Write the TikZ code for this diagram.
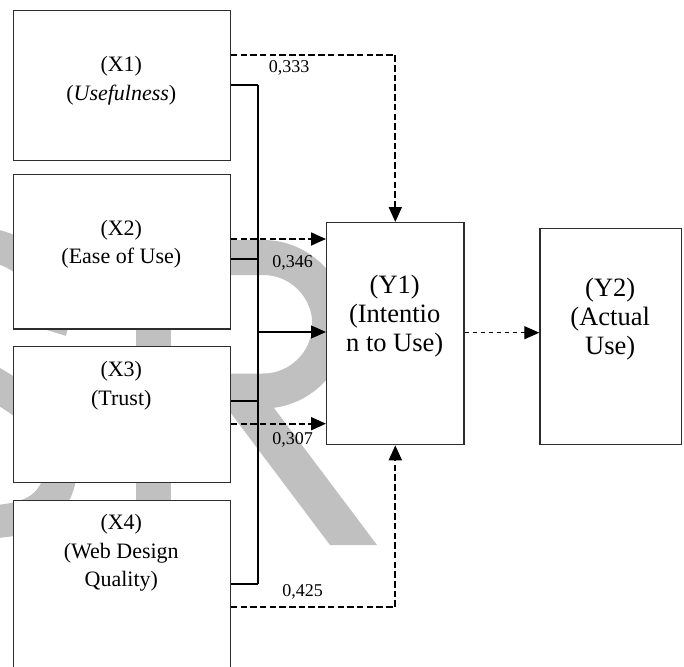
\documentclass[tikz,border=0pt]{standalone}
\usepackage{fontspec}
\setmainfont{Liberation Serif}
\usetikzlibrary{arrows.meta}

\definecolor{wmark}{RGB}{192,192,192}
\definecolor{boxline}{RGB}{45,45,45}

\tikzset{every picture/.style={line width=1pt}}
\tikzset{
  varbox/.style={draw=boxline, fill=white, line width=1.3pt, inner sep=0pt, anchor=north west},
  xtext/.style={align=center, inner sep=0pt, font=\fontsize{22}{28.5}\selectfont},
  ytext/.style={align=center, inner sep=0pt, font=\fontsize{26.5}{29}\selectfont},
  coef/.style={inner sep=0pt, font=\fontsize{18}{20}\selectfont},
  busline/.style={line width=2pt},
  dashline/.style={line width=1.8pt, dash pattern=on 6.5pt off 3.2pt, -{Triangle[length=15pt,width=13pt]}},
  solidarrow/.style={line width=1.2pt, -{Triangle[length=15pt,width=13pt]}},
  thindash/.style={line width=1.1pt, dash pattern=on 4.5pt off 3.5pt, -{Triangle[length=15pt,width=13pt]}}
}

\begin{document}
\begin{tikzpicture}[x=1pt,y=1pt,yscale=-1,xscale=1]
\useasboundingbox (0,0) rectangle (684,666);
\clip (0,0) rectangle (684,666);

% Watermark
\fill[wmark] (136,240) rectangle (171,545);
\draw[wmark, line width=35pt] (153.5,257.5) -- (263,257.5) arc[start angle=-90, end angle=90, radius=66.75] -- (153.5,391);
\fill[wmark] (215,392) -- (262,392) -- (377,545) -- (330,545) -- cycle;
\draw[wmark, line width=33pt] (50,331) .. controls (64,290) and (30,243) .. (-30,243) .. controls (-90,243) and (-100,320) .. (-60,350) .. controls (-30,372) and (20,395) .. (42,418) .. controls (62,440) and (66,465) .. (56,490) .. controls (45,512) and (25,520) .. (-10,522);

% Boxes
\node[varbox, minimum width=216.5, minimum height=149.5] (x1) at (13,10) {};
\node[varbox, minimum width=216.5, minimum height=154.3] (x2) at (13,174) {};
\node[varbox, minimum width=216.5, minimum height=136.3] (x3) at (13,345.7) {};
\node[varbox, minimum width=216.5, minimum height=190] (x4) at (13,500) {};
\node[varbox, minimum width=137.3, minimum height=222] (y1) at (326,222) {};
\node[varbox, minimum width=141.7, minimum height=216.3] (y2) at (539.3,227.7) {};

% Text Node
\node[xtext] (x1txt) at (121.3,80.9) {(X1)\\(\textit{Usefulness})};
\node[xtext] (x2txt) at (121.3,244) {(X2)\\(Ease of Use)};
\node[xtext] (x3txt) at (121.3,385.8) {(X3)\\(Trust)};
\node[xtext] (x4txt) at (121.3,552.9) {(X4)\\(Web Design\\Quality)};
\node[ytext] (y1txt) at (394.7,316) {(Y1)\\(Intentio\\n to Use)};
\node[ytext] (y2txt) at (610.2,319.2) {(Y2)\\(Actual\\Use)};

% Coefficients
\node[coef] (c1) at (289,68.3) {0,333};
\node[coef] (c2) at (292.5,263.3) {0,346};
\node[coef] (c3) at (292.5,440) {0,307};
\node[coef] (c4) at (302.5,591.7) {0,425};

% Bus
\coordinate (bustop) at (258.3,85);
\coordinate (busbot) at (258.3,584);
\draw[busline] (bustop) -- (busbot);

% Connection
\draw[busline] (x1.east |- bustop) -- (bustop);
\draw[busline] (x2.east |- 0,259.3) -- (bustop |- 0,259.3);
\draw[busline] (x3.east |- 0,401) -- (bustop |- 0,401);
\draw[busline] (x4.east |- busbot) -- (busbot);
\draw[solidarrow] (bustop |- 0,332) -- (y1.west |- 0,332);

% Connection
\draw[dashline] (x1.east |- 0,55) -| (y1.north);
\draw[dashline] (x2.east |- 0,239) -- (y1.west |- 0,239);
\draw[dashline] (x3.east |- 0,423.7) -- (y1.west |- 0,423.7);
\draw[dashline] (x4.east |- 0,607.3) -| (y1.south);

% Connection
\draw[thindash] (y1.east |- 0,332.7) -- (y2.west |- 0,332.7);

\end{tikzpicture}
\end{document}
